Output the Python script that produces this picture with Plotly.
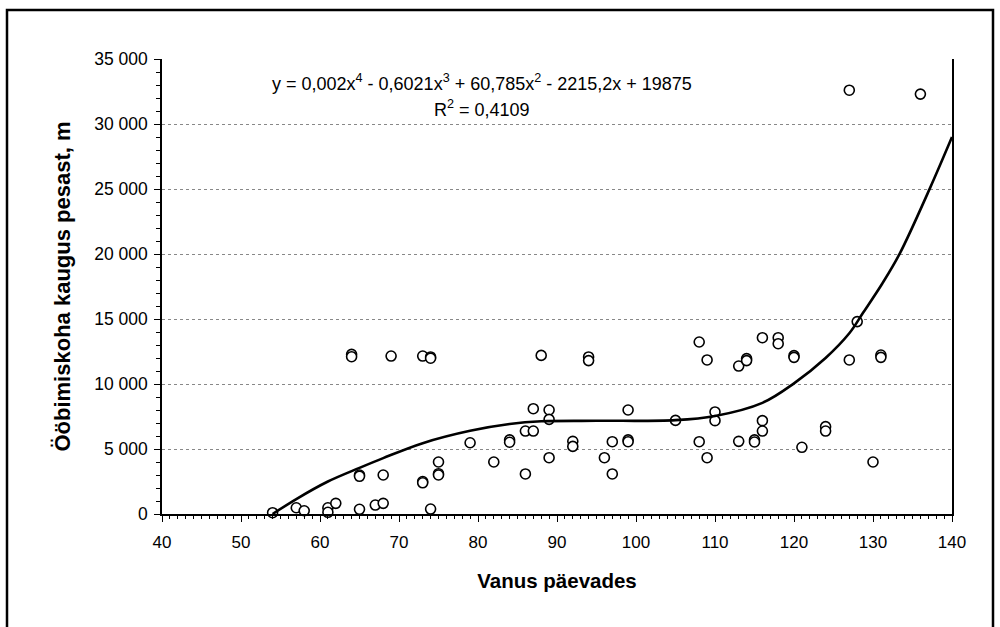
import plotly.graph_objects as go

# Scatter data: age (days) vs distance (m)
age_days = [54, 57, 58, 61, 61, 62, 64, 64, 65, 65, 65, 67, 68, 68, 69, 73, 73, 73, 74, 74, 74,
            75, 75, 75, 79, 82, 84, 84, 86, 86, 87, 87, 88, 89, 89, 89, 92, 92, 94, 94, 96, 97, 97,
            99, 99, 99, 105, 108, 108, 109, 109, 110, 110, 113, 113, 114, 114, 115, 115, 116, 116,
            116, 118, 118, 120, 120, 121, 124, 124, 127, 127, 128, 130, 131, 131, 136]
distance_m = [100, 480, 250, 480, 130, 820, 12280, 12100, 3000, 2900, 360, 690, 820, 3000, 12150,
              12150, 2500, 2400, 12080, 11980, 380, 4000, 3100, 3000, 5480, 4000, 5700, 5520, 3080,
              6380, 6380, 8100, 12200, 8000, 7280, 4330, 5590, 5200, 12080, 11800, 4330, 5560, 3080,
              8000, 5700, 5560, 7200, 13230, 5560, 11850, 4330, 7850, 7180, 11380, 5590, 11950,
              11800, 5700, 5540, 13560, 7180, 6380, 13560, 13100, 12180, 12050, 5130, 6720, 6380,
              11850, 32600, 14800, 4000, 12230, 12050, 32300]

# Trendline
trend_x = [54, 57, 61, 65, 68, 73, 79, 84, 88, 95, 105, 110, 116, 120, 124, 127, 128.7, 131.2, 133.4, 137.2, 140]
trend_y = [0, 1150, 2500, 3550, 4300, 5450, 6400, 6920, 7130, 7170, 7220, 7540, 8550, 10050, 12000,
           13900, 15440, 17750, 20050, 25050, 29000]

y_ticks = [0, 5000, 10000, 15000, 20000, 25000, 30000, 35000]
y_tick_text = ["0", "5 000", "10 000", "15 000", "20 000", "25 000", "30 000", "35 000"]
x_ticks = [40, 50, 60, 70, 80, 90, 100, 110, 120, 130, 140]

FONT = "Liberation Sans, Arial, sans-serif"

fig = go.Figure()
fig.add_trace(go.Scatter(
    x=age_days, y=distance_m, mode="markers",
    marker=dict(symbol="circle", size=10, color="white", line=dict(color="black", width=1.6)),
    showlegend=False, cliponaxis=False,
))
fig.add_trace(go.Scatter(
    x=trend_x, y=trend_y, mode="lines",
    line=dict(color="black", width=2.6, shape="spline", smoothing=1.0),
    showlegend=False,
))

fig.update_layout(
    width=1000, height=627,
    margin=dict(l=162, r=48, t=59, b=113),
    plot_bgcolor="white", paper_bgcolor="white",
    font=dict(family=FONT, size=17, color="black"),
    xaxis=dict(
        range=[40, 140], tickvals=x_ticks, showgrid=False, zeroline=False,
        showline=True, linecolor="black", linewidth=1.5,
        ticks="outside", ticklen=6, tickwidth=1.3, tickcolor="black",
        ticklabelstandoff=6,
        minor=dict(dtick=1, ticks="outside", ticklen=3, tickwidth=1, tickcolor="black", showgrid=False),
        tickfont=dict(size=17),
        title=dict(text="<b>Vanus päevades</b>", font=dict(size=20.5), standoff=22),
    ),
    yaxis=dict(
        range=[0, 35000], tickvals=y_ticks, ticktext=y_tick_text,
        showgrid=True, gridcolor="#888888", griddash="dot", gridwidth=1,
        zeroline=False, showline=True, linecolor="black", linewidth=1.5, mirror=True,
        ticks="outside", ticklen=6, tickwidth=1.3, tickcolor="black",
        ticklabelstandoff=3,
        minor=dict(dtick=1000, ticks="outside", ticklen=4, tickwidth=1, tickcolor="black", showgrid=False),
        tickfont=dict(size=17.5),
        title=dict(text="<b>Ööbimiskoha kaugus pesast, m</b>", font=dict(size=22), standoff=18),
    ),
    annotations=[
        dict(x=0.405, y=0.949, xref="paper", yref="paper", showarrow=False,
             text="y = 0,002x<sup>4</sup> - 0,6021x<sup>3</sup> + 60,785x<sup>2</sup> - 2215,2x + 19875",
             font=dict(size=18), xanchor="center", yanchor="middle"),
        dict(x=0.405, y=0.892, xref="paper", yref="paper", showarrow=False,
             text="R<sup>2</sup> = 0,4109",
             font=dict(size=18), xanchor="center", yanchor="middle"),
    ],
    shapes=[
        dict(type="rect", xref="paper", yref="paper",
             x0=-0.1962, x1=1.0519, y0=-0.35, y1=1.1077,
             line=dict(color="black", width=2.5), fillcolor="rgba(0,0,0,0)", layer="above"),
    ],
)

fig.write_html("out.html")
